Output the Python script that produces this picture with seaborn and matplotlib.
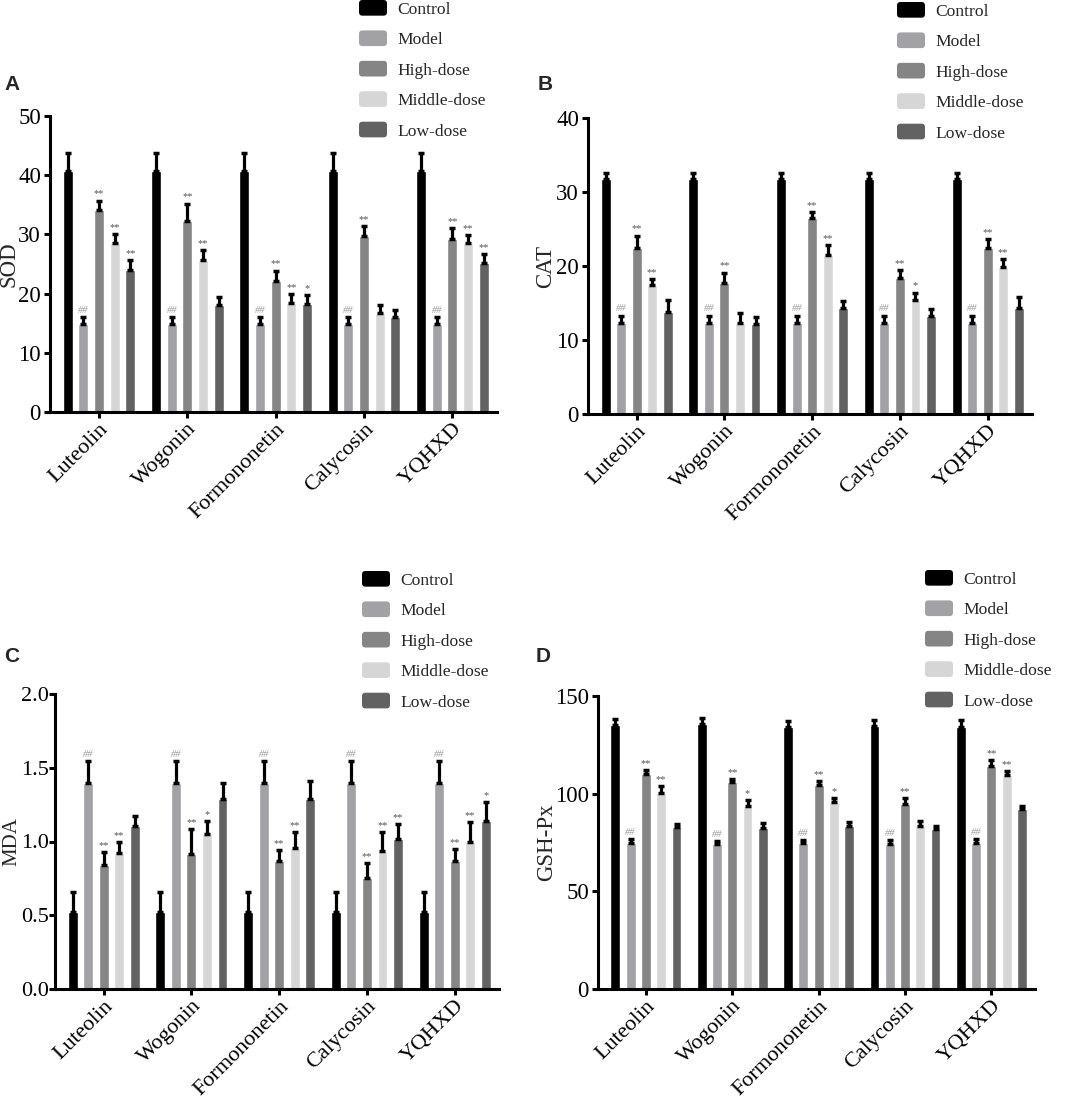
import numpy as np
import pandas as pd
import matplotlib
matplotlib.use("Agg")
import matplotlib.pyplot as plt
import seaborn as sns
from matplotlib.patches import FancyBboxPatch
from matplotlib.legend_handler import HandlerPatch

compounds = ["Luteolin", "Wogonin", "Formononetin", "Calycosin", "YQHXD"]
groups = ["Control", "Model", "High-dose", "Middle-dose", "Low-dose"]
colors = ["#000000", "#a1a1a6", "#858585", "#d6d6d6", "#626262"]

# SOD
sod_control = [40.7, 40.7, 40.7, 40.7, 40.7]
sod_model = [14.8, 14.8, 14.8, 14.8, 14.8]
sod_high = [34.1, 32.2, 22.2, 29.8, 29.3]
sod_middle = [28.6, 25.6, 18.4, 16.8, 28.6]
sod_low = [24.0, 18.0, 18.2, 16.0, 25.2]
sod_err_control = [3.0, 3.0, 3.0, 3.0, 3.0]
sod_err_model = [1.2, 1.2, 1.2, 1.2, 1.2]
sod_err_high = [1.6, 3.0, 1.7, 1.6, 1.7]
sod_err_middle = [1.5, 1.8, 1.5, 1.3, 1.3]
sod_err_low = [1.6, 1.4, 1.5, 1.3, 1.5]
sod_sig_high = ["**", "**", "**", "**", "**"]
sod_sig_middle = ["**", "**", "**", "", "**"]
sod_sig_low = ["**", "", "*", "", "**"]

# CAT
cat_control = [31.7, 31.7, 31.7, 31.7, 31.7]
cat_model = [12.3, 12.3, 12.3, 12.3, 12.3]
cat_high = [22.5, 17.7, 26.5, 18.4, 22.4]
cat_middle = [17.4, 12.3, 21.5, 15.4, 19.8]
cat_low = [13.8, 12.1, 14.3, 13.3, 14.3]
cat_err_control = [0.9, 0.9, 0.9, 0.9, 0.9]
cat_err_model = [1.0, 1.0, 1.0, 1.0, 1.0]
cat_err_high = [1.6, 1.4, 0.8, 1.1, 1.2]
cat_err_middle = [0.8, 1.3, 1.3, 1.0, 1.1]
cat_err_low = [1.6, 1.0, 1.0, 0.9, 1.5]
cat_sig_high = ["**", "**", "**", "**", "**"]
cat_sig_middle = ["**", "", "**", "*", "**"]
cat_sig_low = ["", "", "", "", ""]

# MDA
mda_control = [0.52, 0.52, 0.52, 0.52, 0.52]
mda_model = [1.395, 1.395, 1.395, 1.395, 1.395]
mda_high = [0.842, 0.914, 0.869, 0.752, 0.869]
mda_middle = [0.919, 1.050, 0.955, 0.937, 0.998]
mda_low = [1.104, 1.287, 1.291, 1.020, 1.138]
mda_err_control = [0.14, 0.14, 0.14, 0.14, 0.14]
mda_err_model = [0.15, 0.15, 0.15, 0.15, 0.15]
mda_err_high = [0.086, 0.17, 0.075, 0.10, 0.08]
mda_err_middle = [0.077, 0.086, 0.11, 0.126, 0.133]
mda_err_low = [0.072, 0.11, 0.118, 0.097, 0.128]
mda_sig_high = ["**", "**", "**", "**", "**"]
mda_sig_middle = ["**", "*", "**", "**", "**"]
mda_sig_low = ["", "", "", "**", "*"]

# GSH-Px
gsh_control = [135.0, 135.7, 134.1, 134.6, 134.3]
gsh_model = [74.8, 74.0, 74.5, 74.2, 74.7]
gsh_high = [110.0, 105.8, 104.2, 94.7, 114.1]
gsh_middle = [100.1, 93.5, 95.8, 83.5, 109.7]
gsh_low = [82.7, 82.5, 83.4, 81.8, 91.9]
gsh_err_control = [3.0, 3.0, 3.3, 3.1, 3.2]
gsh_err_model = [1.9, 1.9, 1.9, 1.9, 1.9]
gsh_err_high = [2.1, 1.8, 2.1, 3.2, 2.9]
gsh_err_middle = [3.8, 3.4, 2.1, 2.4, 2.0]
gsh_err_low = [2.0, 2.6, 2.2, 1.9, 1.9]
gsh_sig_high = ["**", "**", "**", "**", "**"]
gsh_sig_middle = ["**", "*", "*", "", "**"]
gsh_sig_low = ["", "", "", "", ""]

sig_none = ["", "", "", "", ""]
sig_model = ["##", "##", "##", "##", "##"]

panels = [
    dict(letter="A", ylabel="SOD", ylim=50, ticks=[0, 10, 20, 30, 40, 50], fmt="{:.0f}",
         vals=[sod_control, sod_model, sod_high, sod_middle, sod_low],
         errs=[sod_err_control, sod_err_model, sod_err_high, sod_err_middle, sod_err_low],
         sigs=[sig_none, sig_model, sod_sig_high, sod_sig_middle, sod_sig_low],
         rect=(50, 116, 497, 412), lab_x=20, ypad=2, yfs=16.5, lfs=16.5,
         letter_xy=(12, 84), leg_xy=(359, 0)),
    dict(letter="B", ylabel="CAT", ylim=40, ticks=[0, 10, 20, 30, 40], fmt="{:.0f}",
         vals=[cat_control, cat_model, cat_high, cat_middle, cat_low],
         errs=[cat_err_control, cat_err_model, cat_err_high, cat_err_middle, cat_err_low],
         sigs=[sig_none, sig_model, cat_sig_high, cat_sig_middle, cat_sig_low],
         rect=(588, 118, 1032, 414), lab_x=556, ypad=2, yfs=16.5, lfs=16.5,
         letter_xy=(545, 84), leg_xy=(897, 2)),
    dict(letter="C", ylabel="MDA", ylim=2.0, ticks=[0, 0.5, 1.0, 1.5, 2.0], fmt="{:.1f}",
         vals=[mda_control, mda_model, mda_high, mda_middle, mda_low],
         errs=[mda_err_control, mda_err_model, mda_err_high, mda_err_middle, mda_err_low],
         sigs=[sig_none, sig_model, mda_sig_high, mda_sig_middle, mda_sig_low],
         rect=(55, 694, 499, 989), lab_x=21, ypad=0, yfs=16, lfs=15,
         letter_xy=(12, 656), leg_xy=(362, 571)),
    dict(letter="D", ylabel="GSH-Px", ylim=150, ticks=[0, 50, 100, 150], fmt="{:.0f}",
         vals=[gsh_control, gsh_model, gsh_high, gsh_middle, gsh_low],
         errs=[gsh_err_control, gsh_err_model, gsh_err_high, gsh_err_middle, gsh_err_low],
         sigs=[sig_none, sig_model, gsh_sig_high, gsh_sig_middle, gsh_sig_low],
         rect=(598, 696, 1035, 989), lab_x=557, ypad=2, yfs=16.5, lfs=16.5,
         letter_xy=(543, 657), leg_xy=(925, 570)),
]


class RoundHandler(HandlerPatch):
    def create_artists(self, legend, orig_handle, xdescent, ydescent, width, height, fontsize, trans):
        r = 2.5
        p = FancyBboxPatch((-xdescent + r, -ydescent + r), width - 2 * r, height - 2 * r,
                           boxstyle=f"round,pad={r}", fc=orig_handle.get_facecolor(),
                           ec="none", transform=trans)
        return [p]


sns.set_theme(style="ticks")
plt.rcParams["font.family"] = ["Liberation Serif", "DejaVu Serif"]

W, H = 1065, 1098
fig = plt.figure(figsize=(W / 100, H / 100), dpi=100)

for p in panels:
    x0, y0, x1, y1 = p["rect"]
    ax = fig.add_axes([x0 / W, 1 - y1 / H, (x1 - x0) / W, (y1 - y0) / H])
    rows = []
    for g, vlist in zip(groups, p["vals"]):
        for c, v in zip(compounds, vlist):
            rows.append({"compound": c, "group": g, "value": v})
    df = pd.DataFrame(rows)
    sns.barplot(data=df, x="compound", y="value", hue="group", order=compounds,
                hue_order=groups, palette=colors, width=0.885, gap=0.36,
                errorbar=None, saturation=1, ax=ax, legend=True)
    handles, labels = ax.get_legend_handles_labels()
    ax.get_legend().remove()

    for cont, errs, sigs, g in zip(ax.containers, p["errs"], p["sigs"], groups):
        xs = np.array([b.get_x() + b.get_width() / 2 for b in cont])
        ys = np.array([b.get_height() for b in cont])
        errs = np.array(errs)
        ax.errorbar(xs, ys, yerr=[np.zeros_like(errs), errs], fmt="none",
                    ecolor="black", elinewidth=2.3, capsize=2.4, capthick=2.5, zorder=3)
        for xx, yy, ee, s in zip(xs, ys, errs, sigs):
            if s:
                col = "#9a9a9a" if s.startswith("#") else "#555555"
                ax.annotate(s, (xx, yy + ee), xytext=(0, 1.5), textcoords="offset points",
                            ha="center", va="bottom", fontsize=7.5, color=col,
                            style="italic" if s.startswith("#") else "normal")

    ax.set_xlim(-0.555, 4.505)
    ax.set_ylim(0, p["ylim"])
    ax.set_yticks(p["ticks"])
    ax.set_yticklabels([p["fmt"].format(t) for t in p["ticks"]], fontsize=p["yfs"])
    ax.set_xticks(range(len(compounds)))
    ax.set_xticklabels(compounds, rotation=45, ha="right", rotation_mode="anchor", fontsize=16)
    ax.set_xlabel("")
    ax.set_ylabel(p["ylabel"], fontsize=p["lfs"])
    ax.yaxis.set_label_coords((p["lab_x"] - x0) / (x1 - x0), 0.5)
    sns.despine(ax=ax)
    for s in ["left", "bottom"]:
        ax.spines[s].set_linewidth(2.2)
        ax.spines[s].set_color("black")
    ax.tick_params(axis="both", width=2.2, length=4.5, color="black", labelcolor="black")
    ax.tick_params(axis="y", pad=p["ypad"])
    ax.tick_params(axis="x", pad=1)
    ax.set_facecolor("white")

    lx, ly = p["leg_xy"]
    ax.legend(handles, labels, loc="upper left", bbox_to_anchor=(lx / W, 1 - ly / H),
              bbox_transform=fig.transFigure, frameon=False, fontsize=12.6,
              handlelength=1.6, handleheight=1.0, handletextpad=0.6, labelspacing=0.72,
              borderpad=0, borderaxespad=0,
              handler_map={matplotlib.patches.Rectangle: RoundHandler()})

    lxx, lyy = p["letter_xy"]
    fig.text(lxx / W, 1 - lyy / H, p["letter"], fontsize=15, fontweight="bold",
             family=["Liberation Sans", "DejaVu Sans"], ha="center", va="center")

fig.savefig("out.png", dpi=100, facecolor="white")
